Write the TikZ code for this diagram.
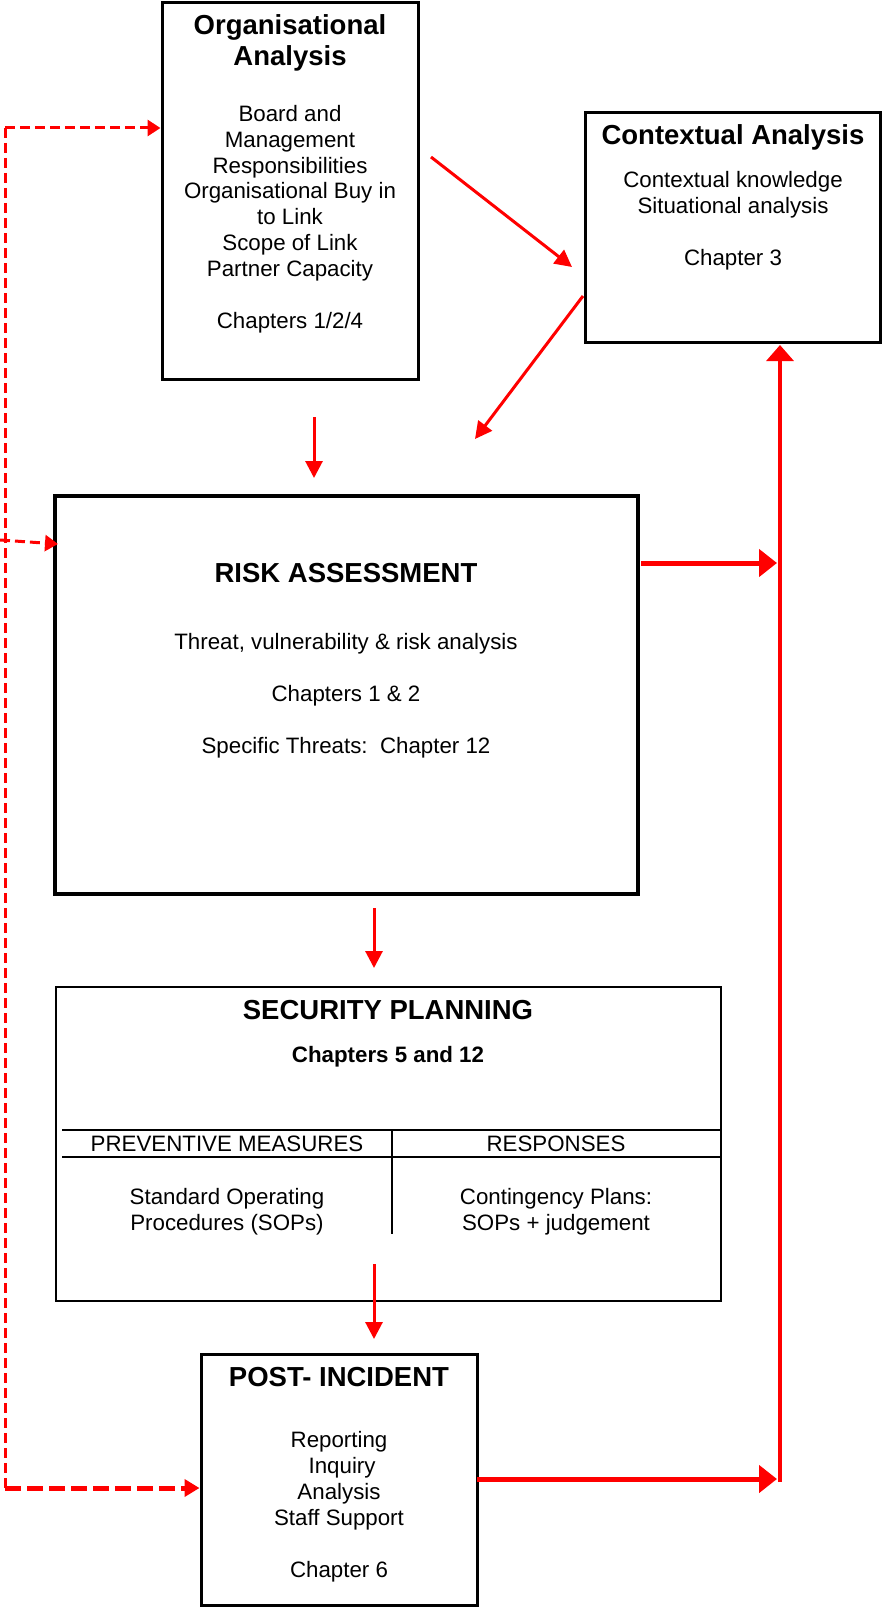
\documentclass[tikz,border=0pt]{standalone}
\usepackage{fontspec}
\setmainfont{Liberation Sans}
\usetikzlibrary{arrows.meta}
\tikzset{
  box/.style={draw=black, rectangle, inner sep=0pt},
  txt/.style={anchor=base, align=center, inner sep=0pt, font=\fontsize{22.3}{25.8}\selectfont},
  btxt/.style={anchor=base, align=center, inner sep=0pt, font=\bfseries\fontsize{22.3}{25.8}\selectfont},
  ttl/.style={anchor=base, align=center, inner sep=0pt, font=\bfseries\fontsize{27.5}{31.7}\selectfont},
  redarr/.style={draw=red, line width=3pt, -{Triangle[length=17pt,width=17pt]}},
  fatarr/.style={draw=red, line width=5pt, -{Triangle[length=18pt,width=27pt]}},
  dasharr/.style={draw=red, line width=3pt, dash pattern=on 10pt off 5pt, -{Triangle[length=13pt,width=16pt]}},
  fatdasharr/.style={draw=red, line width=5pt, dash pattern=on 16pt off 6pt, -{Triangle[length=15pt,width=17pt]}},
  tabline/.style={draw=black, line width=2.2pt}
}
\begin{document}
\begin{tikzpicture}[x=1pt,y=-1pt]
\useasboundingbox (0,0) rectangle (883,1608);
\fill[white] (0,0) rectangle (883,1608);

% boxes
\node[box, line width=3pt, minimum width=256pt, minimum height=376pt] (org) at (290,191) {};
\node[box, line width=3pt, minimum width=295pt, minimum height=229pt] (ctx) at (732.5,227.5) {};
\node[box, line width=4.5pt, minimum width=583pt, minimum height=398pt] (risk) at (346.5,695) {};
\node[box, line width=2.5pt, minimum width=665pt, minimum height=314pt] (sec) at (388.5,1144) {};
\node[box, line width=3pt, minimum width=276pt, minimum height=251pt] (post) at (339,1479.5) {};

% texts (base anchor = baseline of the last line)
\node[ttl] (orgT) at (290,66) {Organisational\\Analysis};
\node[txt] (orgB) at (290,328) {Board and\\Management\\Responsibilities\\Organisational Buy in\\to Link\\Scope of Link\\Partner Capacity\\[26pt]Chapters 1/2/4};

\node[ttl] (ctxT) at (733,145) {Contextual Analysis};
\node[txt] (ctxB) at (733,265) {Contextual knowledge\\Situational analysis\\[26pt]Chapter 3};

\node[ttl] (riskT) at (346,582) {RISK ASSESSMENT};
\node[txt] (riskB) at (346,753) {Threat, vulnerability \& risk analysis\\[25.8pt]Chapters 1 \& 2\\[25.8pt]Specific Threats:\ \ Chapter 12};

\node[ttl] (secT) at (388,1019) {SECURITY PLANNING};
\node[btxt] (secC) at (388,1062) {Chapters 5 and 12};
\node[txt] (prevH) at (227,1151) {PREVENTIVE MEASURES};
\node[txt] (respH) at (556,1151) {RESPONSES};
\node[txt] (prevB) at (227,1230) {Standard Operating\\Procedures (SOPs)};
\node[txt] (respB) at (556,1230) {Contingency Plans:\\SOPs + judgement};

\node[ttl] (postT) at (339,1386) {POST- INCIDENT};
\node[txt] (postB) at (339,1577) {Reporting\\\ Inquiry\\Analysis\\Staff Support\\[26pt]Chapter 6};

% table lines inside security planning
\draw[tabline] (62,1130) -- (sec.east |- 0,1130);
\draw[tabline] (62,1157) -- (sec.east |- 0,1157);
\draw[tabline] (392,1130) -- (392,1234);

% connector end points
\coordinate (oc1) at (431,157);
\coordinate (oc2) at (572,267);
\coordinate (cr1) at (583,296);
\coordinate (cr2) at (475,439);
\coordinate (or1) at (314,417);
\coordinate (or2) at (314,478);
\coordinate (rs1) at (374,908);
\coordinate (rs2) at (374,968);
\coordinate (sp1) at (374,1264);
\coordinate (sp2) at (374,1339);
\coordinate (rr1) at (641,563);
\coordinate (rr2) at (777,563);
\coordinate (pr1) at (477,1479);
\coordinate (pr2) at (777,1479);
\coordinate (vb) at (780,1482);
\coordinate (vt) at (780,345);
\coordinate (dtop) at (5,128);
\coordinate (dbot) at (5,1488);
\coordinate (dmid) at (0,540);

% solid red connectors
\draw[redarr] (oc1) -- (oc2);
\draw[redarr] (cr1) -- (cr2);
\draw[redarr] (or1) -- (or2);
\draw[redarr] (rs1) -- (rs2);
\draw[redarr] (sp1) -- (sp2);
\draw[fatarr] (rr1) -- (rr2);
\draw[fatarr] (pr1) -- (pr2);
\draw[draw=red, line width=3.5pt, -{Triangle[length=16pt,width=27pt]}] (vb) -- (vt);

% dashed feedback
\draw[draw=red, line width=3pt, dash pattern=on 10pt off 5pt] (dtop) -- (dbot);
\draw[dasharr] (dtop) -- (org.west |- dtop);
\draw[dasharr] (dmid) -- (58,544);
\draw[fatdasharr] (dbot) -- (post.west |- dbot);
\end{tikzpicture}
\end{document}
